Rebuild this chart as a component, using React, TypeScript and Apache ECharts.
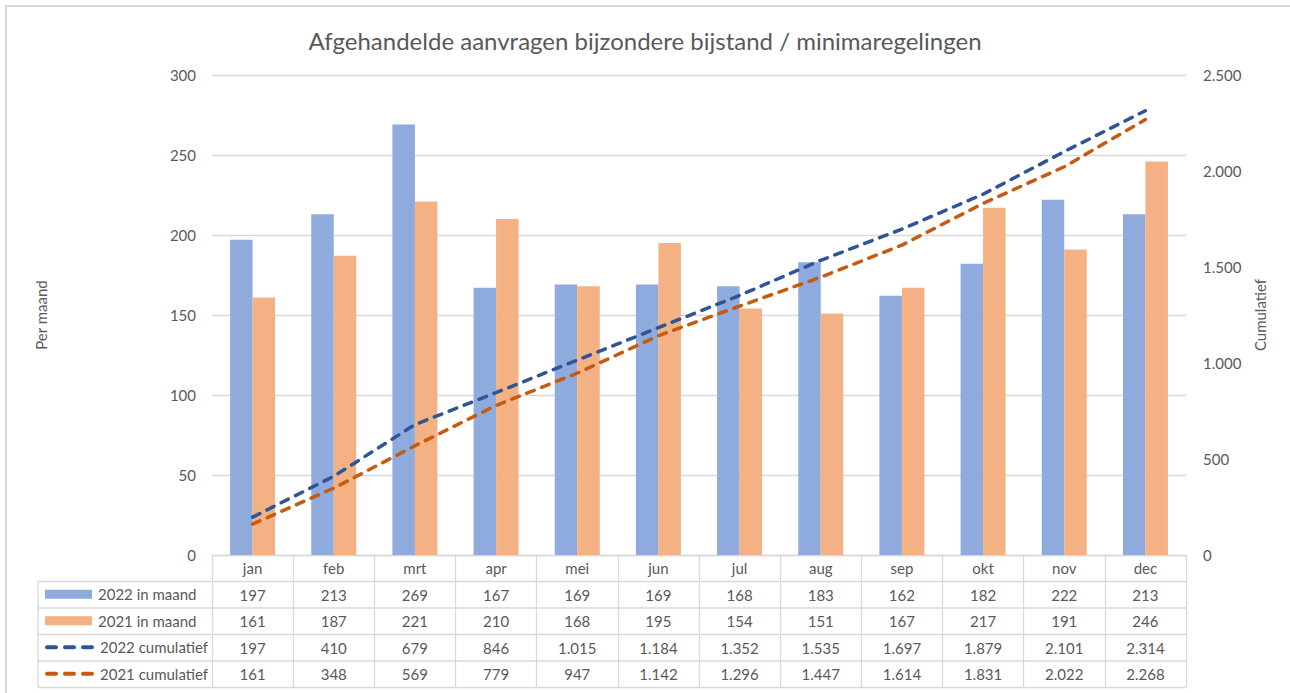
import React, { useEffect, useRef } from "react";
import * as echarts from "echarts";

const months = ["jan", "feb", "mrt", "apr", "mei", "jun", "jul", "aug", "sep", "okt", "nov", "dec"];
const monthly2022 = [197, 213, 269, 167, 169, 169, 168, 183, 162, 182, 222, 213];
const monthly2021 = [161, 187, 221, 210, 168, 195, 154, 151, 167, 217, 191, 246];
const cumulative2022 = [197, 410, 679, 846, 1015, 1184, 1352, 1535, 1697, 1879, 2101, 2314];
const cumulative2021 = [161, 348, 569, 779, 947, 1142, 1296, 1447, 1614, 1831, 2022, 2268];
const seriesNames = ["2022 in maand", "2021 in maand", "2022 cumulatief", "2021 cumulatief"];
const titleText = "Afgehandelde aanvragen bijzondere bijstand / minimaregelingen";
const leftAxisName = "Per maand";
const rightAxisName = "Cumulatief";

const fmt = (n: number | string) => String(n).replace(/\B(?=(\d{3})+(?!\d))/g, ".");

const FONT = "Lato, 'Open Sans', sans-serif";
const TXT = "#595959";
const GRIDC = "#d9d9d9";
const colors = ["#8FAADC", "#F4B183", "#2F5597", "#C55A11"];

const W = 1290;
const H = 693;
const gridLeft = 212;
const gridRight = 1186;
const gridTop = 75;
const gridBottom = 555;
const rowH = 26.5;
const tableLeft = 38;

export default function App() {
  const ref = useRef<HTMLDivElement>(null);
  useEffect(() => {
    document.body.style.margin = "0";
    if (!ref.current) return;
    const chart = echarts.init(ref.current, undefined, { renderer: "svg" });
    const tableRows = [monthly2022, monthly2021, cumulative2022, cumulative2021];

    const graphics: any[] = [
      {
        type: "rect",
        shape: { x: 6, y: 6, width: W + 20, height: H + 20 },
        style: { fill: "none", stroke: GRIDC, lineWidth: 2 },
        silent: true,
      },
    ];
    for (let k = 1; k <= 5; k++) {
      const y = gridBottom + rowH * k;
      graphics.push({
        type: "line",
        shape: { x1: tableLeft, y1: y, x2: gridRight, y2: y },
        style: { stroke: GRIDC, lineWidth: 1.3 },
        silent: true,
      });
    }
    graphics.push({
      type: "line",
      shape: { x1: tableLeft, y1: gridBottom + rowH, x2: tableLeft, y2: gridBottom + rowH * 5 },
      style: { stroke: GRIDC, lineWidth: 1.3 },
      silent: true,
    });

    const legends = seriesNames.map((name, k) => {
      const isLine = k >= 2;
      const base: any = {
        data: isLine ? [name] : [{ name, icon: "rect" }],
        left: 45,
        top: gridBottom + rowH * (k + 1.5) - 8,
        padding: 0,
        itemWidth: 47,
        itemHeight: isLine ? 12 : 9,
        itemGap: 6,
        selectedMode: false,
        textStyle: { fontFamily: FONT, fontSize: 15, color: TXT, padding: [0, 0, 0, 1] },
      };
      if (isLine) {
        base.itemStyle = { opacity: 0 };
        base.lineStyle = { width: 4, type: [9, 9], cap: "round", opacity: 1 };
      }
      return base;
    });

    chart.setOption({
      animation: false,
      textStyle: { fontFamily: FONT },
      title: {
        text: titleText,
        left: "center",
        top: 23,
        textStyle: { fontFamily: FONT, fontSize: 24, fontWeight: "normal", color: TXT },
      },
      legend: legends,
      graphic: graphics,
      grid: { left: gridLeft, right: W - gridRight, top: gridTop, bottom: H - gridBottom, containLabel: false },
      xAxis: {
        type: "category",
        data: months,
        boundaryGap: true,
        axisLine: { show: true, lineStyle: { color: GRIDC, width: 1.3 } },
        axisTick: { show: true, interval: 0, alignWithLabel: false, length: rowH * 5, lineStyle: { color: GRIDC, width: 1.3 } },
        axisLabel: {
          interval: 0,
          margin: 0,
          fontFamily: FONT,
          fontSize: 15,
          color: TXT,
          lineHeight: rowH,
          formatter: (v: string, i: number) => [v, ...tableRows.map((r) => fmt(r[i]))].join("\n"),
        },
      },
      yAxis: [
        {
          type: "value",
          min: 0,
          max: 300,
          interval: 50,
          name: leftAxisName,
          nameLocation: "middle",
          nameRotate: 90,
          nameGap: 164,
          nameTextStyle: { fontFamily: FONT, fontSize: 15, color: TXT },
          axisLine: { show: false },
          axisTick: { show: false },
          axisLabel: { margin: 16, fontFamily: FONT, fontSize: 15, color: TXT },
          splitLine: { lineStyle: { color: GRIDC, width: 1.3 } },
        },
        {
          type: "value",
          min: 0,
          max: 2500,
          interval: 500,
          position: "right",
          name: rightAxisName,
          nameLocation: "middle",
          nameRotate: 90,
          nameGap: 62,
          nameTextStyle: { fontFamily: FONT, fontSize: 15, color: TXT },
          axisLine: { show: false },
          axisTick: { show: false },
          axisLabel: { margin: 17, fontFamily: FONT, fontSize: 15, color: TXT, formatter: (v: number) => fmt(v) },
          splitLine: { show: false },
        },
      ],
      series: [
        {
          name: seriesNames[0],
          type: "bar",
          data: monthly2022,
          barWidth: 22.5,
          barGap: "0%",
          itemStyle: { color: colors[0] },
        },
        {
          name: seriesNames[1],
          type: "bar",
          data: monthly2021,
          barWidth: 22.5,
          barGap: "0%",
          itemStyle: { color: colors[1] },
        },
        {
          name: seriesNames[2],
          type: "line",
          yAxisIndex: 1,
          data: cumulative2022,
          symbol: "none",
          itemStyle: { color: colors[2] },
          lineStyle: { color: colors[2], width: 3.5, type: [8, 8], cap: "round" },
        },
        {
          name: seriesNames[3],
          type: "line",
          yAxisIndex: 1,
          data: cumulative2021,
          symbol: "none",
          itemStyle: { color: colors[3] },
          lineStyle: { color: colors[3], width: 3.5, type: [8, 8], cap: "round" },
        },
      ],
    });
    return () => chart.dispose();
  }, []);
  return <div ref={ref} style={{ width: W, height: H }} />;
}
